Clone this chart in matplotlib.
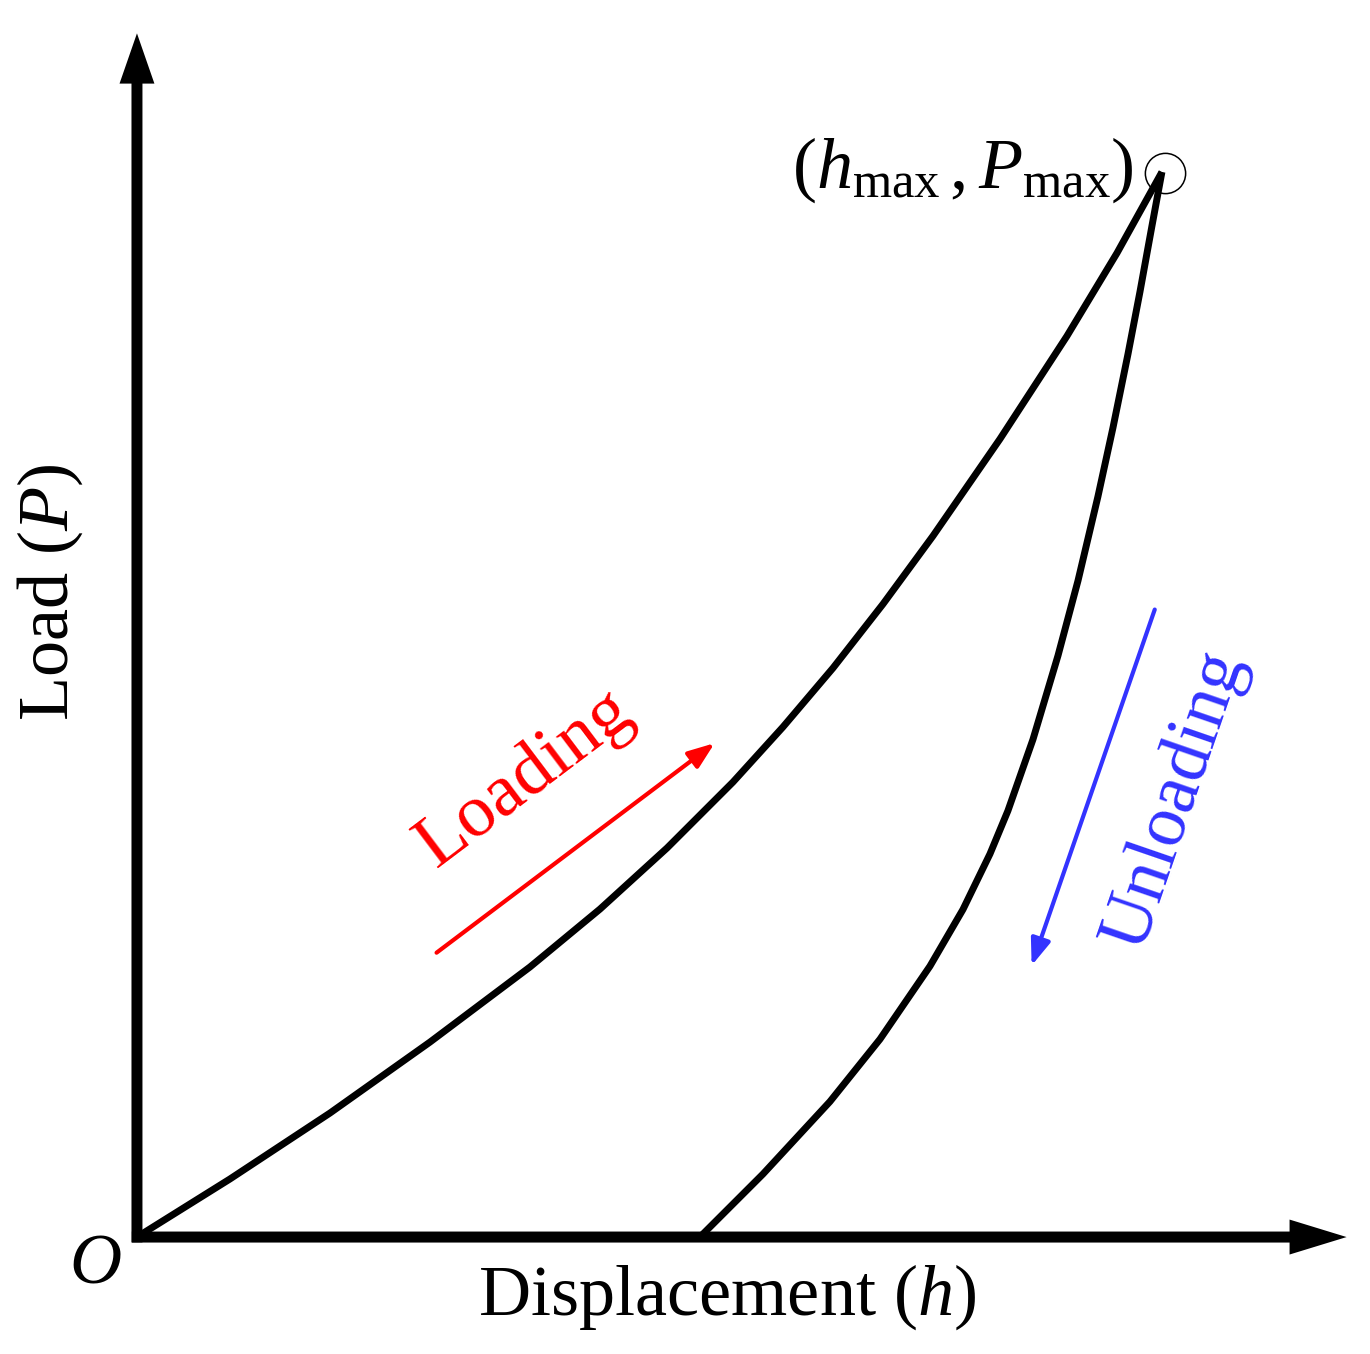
import matplotlib
matplotlib.use("Agg")
import matplotlib.pyplot as plt
import numpy as np

plt.rcParams['font.family'] = ['Liberation Serif', 'DejaVu Serif']
plt.rcParams['mathtext.fontset'] = 'custom'
plt.rcParams['mathtext.rm'] = 'Liberation Serif'
plt.rcParams['mathtext.it'] = 'Liberation Serif:italic'

# Loading curve (normalized displacement h, load P)
loading_h = [0.0, 0.0906, 0.1881, 0.2856, 0.3830, 0.4513, 0.5166, 0.5809, 0.6296,
             0.6784, 0.7271, 0.7758, 0.8411, 0.9064, 0.9552, 0.9990]
loading_P = [0.0, 0.0543, 0.1160, 0.1824, 0.2526, 0.3068, 0.3639, 0.4256, 0.4771,
             0.5323, 0.5921, 0.6558, 0.7465, 0.8428, 0.9205, 0.9963]

# Unloading curve
unloading_h = [0.5487, 0.6101, 0.6754, 0.7242, 0.7729, 0.8051, 0.8314, 0.8489,
               0.8733, 0.8977, 0.9172, 0.9366, 0.9513, 0.9659, 0.9776, 0.9893, 0.9990]
unloading_P = [0.0, 0.0589, 0.1267, 0.1851, 0.2534, 0.3065, 0.3584, 0.3988,
               0.4655, 0.5439, 0.6140, 0.6926, 0.7572, 0.8259, 0.8843, 0.9460, 0.9963]

peak_h, peak_P = 1.002, 0.995

fig = plt.figure(figsize=(13.7, 13.54), dpi=100)
ax = fig.add_axes([0, 0, 1, 1])
ax.set_xlim(-0.1335, 1.2018)
ax.set_ylim(-0.1094, 1.1572)
ax.axis('off')

# axes arrows
ax.arrow(-0.005, 0, 1.184, 0, width=0.0103, head_width=0.0327, head_length=0.0556,
         length_includes_head=True, color='k', lw=0)
ax.arrow(0, -0.005, 0, 1.131, width=0.0107, head_width=0.034, head_length=0.047,
         length_includes_head=True, color='k', lw=0)

ax.plot(loading_h, loading_P, color='k', lw=5, solid_capstyle='butt', solid_joinstyle='round')
ax.plot(unloading_h, unloading_P, color='k', lw=5, solid_capstyle='butt', solid_joinstyle='round')
ax.plot([peak_h], [peak_P], marker='o', ms=29, mfc='none', mec='k', mew=1.1)

# direction arrows
ax.annotate('', xy=(0.563, 0.462), xytext=(0.292, 0.266),
            arrowprops=dict(arrowstyle='-|>,head_length=0.8,head_width=0.3', lw=3,
                            color='red', mutation_scale=20, shrinkA=0, shrinkB=0))
ax.annotate('', xy=(0.872, 0.254), xytext=(0.992, 0.587),
            arrowprops=dict(arrowstyle='-|>,head_length=0.8,head_width=0.3', lw=3,
                            color='#3333ff', mutation_scale=20, shrinkA=0, shrinkB=0))

ax.text(0.378, 0.429, 'Loading', color='red', fontsize=54, rotation=37,
        ha='center', va='center', rotation_mode='anchor')
ax.text(1.012, 0.409, 'Unloading', color='#3333ff', fontsize=53, rotation=71,
        ha='center', va='center', rotation_mode='anchor')

ax.text(-0.085, 0.603, r'Load ($P$)', fontsize=52, rotation=90, ha='center', va='center')
ax.text(0.575, -0.056, r'Displacement ($h$)', fontsize=52, ha='center', va='center')
ax.text(-0.041, -0.026, r'$O$', fontsize=52, ha='center', va='center')
ax.text(0.805, 0.998, r'$(h_{\rm max}\,,P_{\rm max})$', fontsize=52, ha='center', va='center')

fig.savefig('out.png', dpi=100)
